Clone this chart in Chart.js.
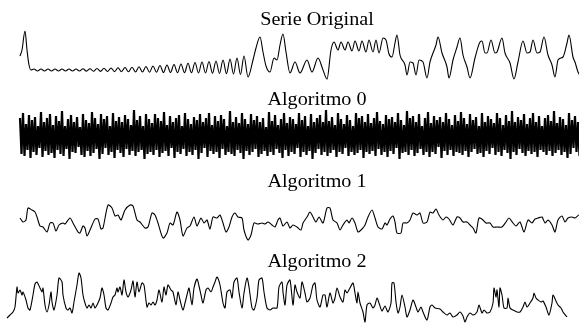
<!DOCTYPE html>
<html>
<head>
<meta charset="utf-8">
<script src="https://cdn.jsdelivr.net/npm/chart.js@4/dist/chart.umd.min.js"></script>
<style>
  body { margin: 0; background: #fff; width: 579px; height: 325px; overflow: hidden; position: relative; }
  canvas { position: absolute; left: 0; }
</style>
</head>
<body>
<canvas id="c0" width="636" height="82" style="top:0px"></canvas>
<canvas id="c1" width="636" height="82" style="top:82px"></canvas>
<canvas id="c2" width="636" height="80" style="top:164px"></canvas>
<canvas id="c3" width="636" height="81" style="top:244px"></canvas>
<script>
// Titles of the four panels
const titles = ['Serie Original', 'Algoritmo 0', 'Algoritmo 1', 'Algoritmo 2'];

// Serie Original: [t, value]
const original = [
  [20,24],[22,30],[25,49],[27,30],[29,15],[31,10],
  [34,11],[37.5,9],[41,11],[44.5,9],[48,11],[51.5,9],[55,11],[58.5,9],[62,11],[65.5,9],
  [69,11],[72.5,9],[76,11],[79.5,9],[83,11.2],[86.5,8.8],[90,11.3],[93.5,8.7],[97,11.5],[100.5,8.6],
  [104,11.7],[107.5,8.5],[111,12],[114.5,8.4],[118,12.2],[121.5,8.3],[125,12.5],[128.5,8.2],
  [132,12.8],[135.5,8],[139,13.2],[142.5,8],[146,13.5],[149.5,7.8],[153,14],[156.5,7.7],
  [160,14.5],[163.5,7.5],[167,15],[170.5,7.5],[174,15.5],[177.5,7.4],[181,16],[184.5,7.3],
  [188,16.7],[191.5,7.2],[195,17.5],[198.5,7],[202,18],[205.5,7],[209,18.5],[212.5,6.8],
  [216,19],[219.5,6.5],[223,20],[226.5,6.2],[230,21],[233.5,6],[237,22],[240.5,5.5],[244,24],
  [248,3],[253,20],[256,32],[260,43],[263,28],[266,14],[270,8],[274,22],[277,20],[280,35],
  [283,46],[286,28],[290,7],[295,18],[300,7],[307,20],[312,8],[318,22],[323,10],[327,1],
  [331,30],[334,38],[338,30],[341,38],[345,30],[348,38],[352,29],[355,39],[359,29],[362,39],
  [366,28],[369,40],[373,28],[376,40],[379,27],[383,42],[386,40],[389,26],[392,23],[395,37],
  [397,45],[400,25],[405,15],[407,5],[410,18],[413,17],[416,5],[419,20],[423,18],[427,2],
  [430,18],[433,27],[436,35],[438,43],[442,27],[447,13],[449,2],[453,20],[457,33],[460,42],
  [463,25],[467,13],[470,2],[475,22],[480,38],[482,39],[485,27],[487,27],[491,40],[495,27],
  [497,28],[502,42],[505,27],[510,17],[514,1],[518,18],[523,39],[527,27],[530,28],[533,40],
  [537,27],[540,28],[544,43],[548,25],[552,15],[555,3],[558,20],[563,23],[567,37],[569,45],
  [573,23],[575,18],[578,8],[582,2]
];

// Algoritmo 0: values at a constant step, starting at t = 20
const algo0Start = 20;
const algo0Step = 1.5;
const algo0 = [
  44,8,49,6,38,12,47,4,42,10,45,7,36,14,50,5,40,11,44,7,48,9,
  37,4,46,12,41,8,51,6,36,13,43,3,47,10,40,9,45,15,35,7,48,5,
  42,11,39,6,50,9,44,13,38,3,48,8,43,14,46,7,36,10,49,4,41,12,
  45,9,40,5,47,13,43,7,37,11,52,6,42,10,46,12,36,3,48,8,43,10,
  39,7,48,12,44,5,41,9,50,11,37,6,46,14,40,4,44,10,47,8,36,13,
  49,6,43,10,38,7,45,12,42,3,48,9,40,14,44,5,49,11,37,8,46,10,
  41,4,47,13,43,7,36,10,51,8,40,6,45,12,39,9,49,3,43,11,38,7,
  48,10,42,13,46,5,40,8,44,11,35,6,50,10,41,7,47,13,37,9,43,4,
  49,12,39,6,45,10,43,8,38,14,49,5,42,10,46,7,36,11,48,3,40,9,
  44,13,47,7,40,10,52,6,41,9,45,12,37,5,49,10,43,8,38,14,47,6,
  42,10,36,7,49,9,44,12,46,4,40,10,48,8,39,11,44,6,50,13,41,7,
  38,10,47,5,43,11,45,8,40,14,49,3,42,9,37,10,51,7,44,12,46,6,
  40,9,48,13,36,7,44,10,50,5,39,10,46,8,42,15,45,4,40,11,49,7,
  43,12,37,6,47,10,41,9,50,7,44,11,38,5,48,10,42,13,45,8,36,9,
  49,5,40,11,46,8,43,14,39,7,49,10,44,6,37,12,47,9,41,3,51,10,
  40,7,45,13,42,9,48,6,38,11,44,8,49,10,40,5,46,12,36,10,44,7,
  47,11,41,6,51,9,39,12,45,7,43,10,37,4,49,8,42,14,46,10,40,6
];

// Algoritmo 1: [t, value]
const algo1 = [
  [20,26],[23,22],[26,24],[28,36],[32,34],[35,32],[37,27],[40,18],[43,17],[47,12],
  [50,21],[53,21],[56,13],[59,19],[63,21],[65,20],[70,26],[73,21],[78,12],[80,11],
  [83,18],[85,16],[87,8],[90,14],[95,25],[98,25],[101,15],[103,16],[108,39],[112,36],
  [115,28],[118,29],[121,24],[125,34],[130,39],[133,38],[137,24],[140,22],[145,16],[148,17],
  [152,31],[155,29],[158,21],[163,6],[167,11],[170,21],[173,19],[177,32],[180,24],[183,8],
  [187,16],[190,18],[194,27],[197,18],[201,26],[204,21],[207,24],[210,15],[213,27],[217,26],
  [220,29],[223,21],[226,12],[229,17],[232,27],[235,31],[238,27],[242,26],[244,14],[248,4],
  [251,9],[254,21],[258,20],[262,21],[265,20],[268,22],[272,19],[275,17],[278,24],[280,26],
  [283,18],[287,22],[290,16],[293,19],[297,17],[301,14],[303,21],[307,27],[310,32],[313,27],
  [316,22],[319,27],[323,21],[327,36],[330,36],[333,24],[337,21],[340,14],[343,19],[347,24],
  [349,21],[352,26],[355,21],[358,12],[362,15],[365,19],[368,27],[372,34],[375,26],[378,17],
  [382,15],[385,21],[387,19],[390,25],[393,28],[395,22],[397,11],[401,11],[403,21],[407,21],
  [410,24],[413,31],[417,29],[420,31],[423,21],[427,22],[430,32],[433,31],[436,35],[439,29],
  [443,24],[446,27],[449,25],[453,19],[457,27],[460,26],[463,22],[467,22],[470,19],[473,16],
  [476,11],[479,26],[483,24],[486,21],[490,21],[493,17],[497,17],[502,17],[506,22],[509,26],
  [513,21],[516,18],[520,22],[524,12],[528,24],[532,21],[535,25],[538,26],[542,27],[545,21],
  [548,24],[552,19],[555,12],[558,24],[562,28],[565,22],[568,26],[572,27],[575,26],[579,29],
  [583,27]
];

// Algoritmo 2: [t, value]
const algo2 = [
  [7,7],[10,10],[13,13],[15,18],[17,38],[18,32],[20,35],[22,30],[23,33],[26,25],
  [28,17],[30,15],[33,30],[35,41],[37,43],[40,37],[42,33],[43,37],[45,20],[47,13],
  [49,20],[51,33],[52,23],[54,15],[57,30],[59,47],[62,43],[63,30],[66,17],[68,15],
  [70,17],[72,12],[74,23],[77,40],[79,52],[81,47],[83,30],[85,22],[87,17],[89,20],
  [91,17],[93,22],[95,17],[97,20],[100,27],[102,37],[104,30],[106,17],[108,15],[111,22],
  [113,28],[115,30],[117,37],[118,33],[120,38],[122,30],[124,45],[126,33],[128,28],[131,35],
  [133,44],[135,28],[137,43],[139,33],[142,42],[144,40],[147,18],[149,22],[151,20],[153,23],
  [155,20],[157,25],[159,35],[162,23],[164,38],[166,30],[168,40],[171,35],[173,33],[176,20],
  [178,33],[180,25],[183,15],[185,22],[187,30],[189,37],[192,20],[194,37],[197,46],[199,39],
  [201,30],[203,22],[206,35],[208,37],[211,33],[213,38],[215,43],[217,48],[220,40],[223,22],
  [225,17],[227,33],[230,35],[232,27],[234,43],[237,47],[239,33],[242,17],[244,32],[247,47],
  [249,38],[252,17],[254,15],[257,27],[259,45],[262,47],[264,33],[267,17],[270,15],[273,17],
  [277,17],[279,38],[282,43],[283,33],[285,20],[287,40],[290,45],[293,20],[295,40],[297,33],
  [300,27],[302,43],[305,32],[307,23],[310,27],[313,40],[315,42],[317,25],[320,18],[323,30],
  [325,30],[327,18],[330,32],[333,22],[335,27],[337,37],[340,28],[343,23],[345,35],[347,32],
  [350,37],[353,42],[355,32],[357,22],[358,33],[360,22],[363,13],[365,3],[367,20],[370,22],
  [373,17],[375,20],[377,27],[379,22],[382,14],[385,19],[388,13],[391,22],[392,42],[394,42],
  [396,23],[398,12],[400,18],[402,30],[405,18],[407,8],[410,15],[413,25],[416,18],[418,13],
  [421,18],[423,13],[427,5],[430,18],[432,20],[435,17],[440,16],[443,13],[447,10],[450,12],
  [453,8],[457,10],[460,13],[463,9],[465,3],[467,8],[470,12],[473,10],[477,13],[479,20],
  [482,12],[484,15],[487,12],[490,13],[493,22],[494,37],[496,28],[497,35],[499,18],[500,37],
  [502,30],[504,17],[507,17],[508,27],[510,17],[513,15],[517,13],[520,13],[523,18],[525,23],
  [527,18],[530,22],[533,27],[534,32],[536,27],[538,25],[541,23],[543,24],[546,18],[549,10],
  [552,22],[553,30],[556,24],[558,20],[561,17],[563,13],[567,8]
];

// Draws the panel heading above each series
const panelTitle = {
  id: 'panelTitle',
  afterDraw(chart, args, opts) {
    const ctx = chart.ctx;
    ctx.save();
    ctx.font = '18px "Liberation Serif"';
    ctx.fillStyle = '#000';
    ctx.textAlign = 'center';
    ctx.textBaseline = 'alphabetic';
    ctx.translate(opts.x, opts.baseline);
    ctx.scale(1.12, 1);
    ctx.fillText(opts.text, 0, 0);
    ctx.restore();
  }
};

function toPoints(pairs) {
  return pairs.map(function(p) { return { x: p[0], y: p[1] }; });
}

function makePanel(id, title, points, yMin, yMax, baseline, lineOpts) {
  new Chart(document.getElementById(id), {
    type: 'line',
    data: {
      datasets: [Object.assign({
        data: points,
        borderColor: '#000',
        borderWidth: 1.1,
        pointRadius: 0,
        fill: false
      }, lineOpts)]
    },
    options: {
      responsive: false,
      animation: false,
      events: [],
      layout: { padding: 0 },
      plugins: {
        legend: { display: false },
        tooltip: { enabled: false },
        panelTitle: { text: title, x: 317, baseline: baseline }
      },
      scales: {
        x: { type: 'linear', display: false, min: 0, max: 636 },
        y: { display: false, min: yMin, max: yMax }
      }
    },
    plugins: [panelTitle]
  });
}

const algo0Points = algo0.map(function(v, i) {
  return { x: algo0Start + i * algo0Step, y: v };
});

makePanel('c0', titles[0], toPoints(original), -2, 80, 25, { cubicInterpolationMode: 'monotone' });
makePanel('c1', titles[1], algo0Points, -2, 80, 23, { tension: 0, borderWidth: 2.2 });
makePanel('c2', titles[2], toPoints(algo1), 0, 80, 23, { tension: 0.25 });
makePanel('c3', titles[3], toPoints(algo2), 0, 81, 23, { tension: 0.25 });
</script>
</body>
</html>
